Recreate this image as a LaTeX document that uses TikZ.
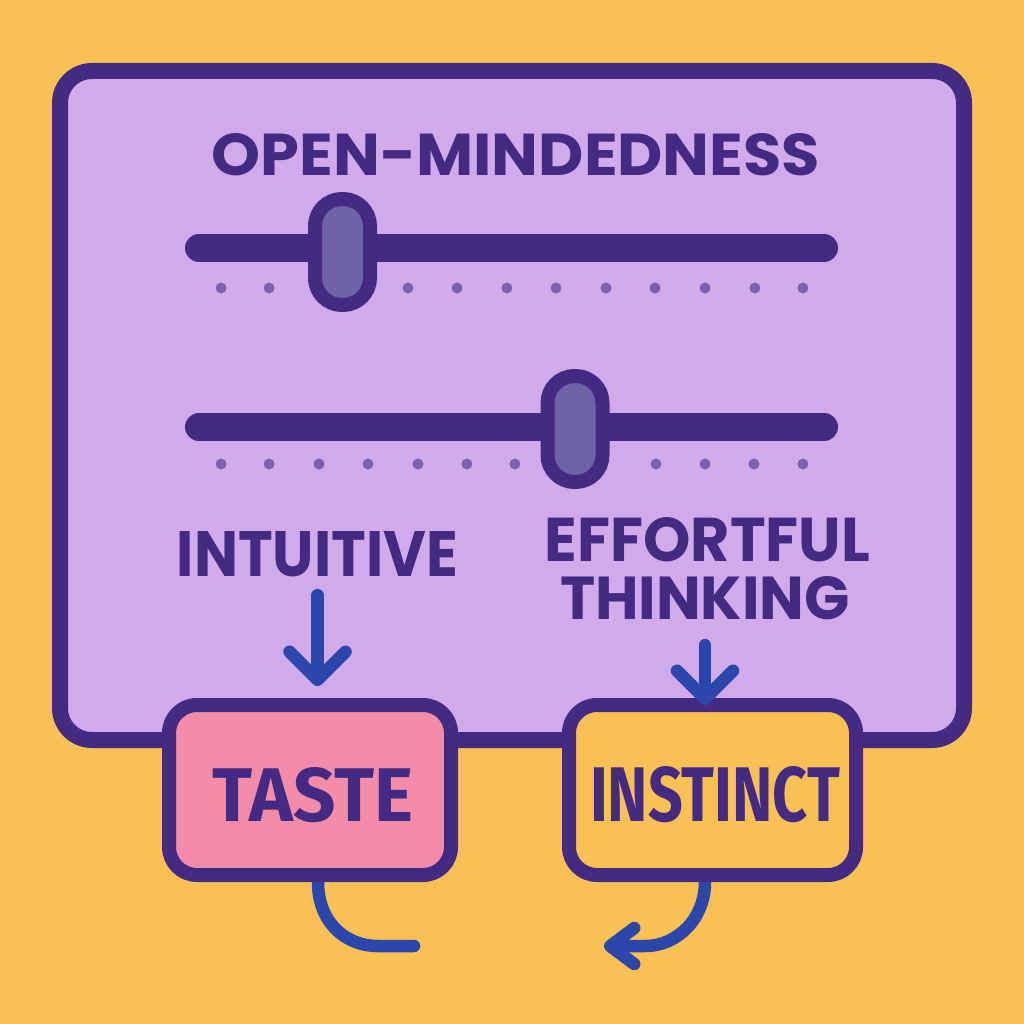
\documentclass[tikz,border=0pt]{standalone}
\usepackage{fontspec}
\setmainfont{Poppins}
\newfontfamily\firaf{Fira Sans}
\usetikzlibrary{arrows.meta,calc}
\definecolor{bgc}{HTML}{F9C153}
\definecolor{panelc}{HTML}{D0AAEA}
\definecolor{darkc}{HTML}{452A84}
\definecolor{knobc}{HTML}{6E63A6}
\definecolor{dotc}{HTML}{7A62B0}
\definecolor{bluec}{HTML}{2B47AB}
\definecolor{pinkc}{HTML}{F28CA9}
\pgfdeclarelayer{back}
\pgfdeclarelayer{mid}
\pgfsetlayers{back,mid,main}
\begin{document}
\begin{tikzpicture}[x=1pt,y=-1pt,
  panel/.style={draw=darkc,fill=panelc,line width=16pt,rounded corners=32pt,
    rectangle,inner sep=0pt,minimum width=904pt,minimum height=669pt},
  box/.style={draw=darkc,line width=14pt,rounded corners=28pt,rectangle,
    inner sep=0pt,minimum height=170pt},
  knob/.style={draw=darkc,fill=knobc,line width=14pt,rounded corners=27pt,
    rectangle,inner sep=0pt,minimum width=55pt,minimum height=106pt},
  track/.style={draw=darkc,line width=28pt,line cap=round},
  lbl/.style={inner sep=0pt,outer sep=0pt,text=darkc},
  arr/.style={draw=bluec,line width=12.5pt,line cap=round,
    -{Straight Barb[length=28pt,width=56pt,round]}},
  curv/.style={draw=bluec,line width=12.5pt,line cap=round,line join=round},
  curvarr/.style={curv,-{Straight Barb[length=24pt,width=36pt,round]}}
]
\begin{pgfonlayer}{back}
\fill[bgc] (0,0) rectangle (1024,1024);
\end{pgfonlayer}
\useasboundingbox (0,0) rectangle (1024,1024);

% panel
\node[panel] (panel) at (512,405.5) {};

% title
\node[lbl] (title) at (516,155) {\resizebox{608pt}{42pt}{\bfseries OPEN-MINDEDNESS}};

% slider 1
\coordinate (t1a) at (199,248);
\coordinate (t1b) at (824,248);
\draw[track] (t1a) -- (t1b);
\foreach \x in {221,269,408,457,507,556,606,655,705,755,803}
  \fill[dotc] (\x,288) circle (5.5);
\node[knob] (knob1) at (342.5,252) {};

% slider 2
\coordinate (t2a) at (199,427);
\coordinate (t2b) at (824,427);
\draw[track] (t2a) -- (t2b);
\foreach \x in {221,269,319,368,418,467,515,656,705,754,803}
  \fill[dotc] (\x,464) circle (5.5);
\node[knob] (knob2) at (575,429) {};

% labels
\node[lbl] (intu) at (317.5,554.5) {\resizebox{281pt}{45pt}{\bfseries INTUITIVE}};
\node[lbl] (effort) at (707.5,540) {\resizebox{325pt}{44pt}{\bfseries EFFORTFUL}};
\node[lbl] (think) at (705,598.5) {\resizebox{290pt}{43pt}{\bfseries THINKING}};

% boxes
\node[box,fill=pinkc,minimum width=282pt] (taste) at (310,790) {};
\node[lbl] (tastet) at (313,795) {\resizebox{200pt}{54pt}{\firaf\bfseries TASTE}};
\node[box,fill=bgc,minimum width=287pt] (inst) at (712.5,790) {};
\node[lbl] (instt) at (715,794.5) {\resizebox{250pt}{55pt}{\firaf\bfseries INSTINCT}};

% arrows
\draw[arr] ($(intu.south)+(0,18)$) -- ($(intu.south |- taste.north)+(0,-12)$);
\draw[arr] ($(think.south)+(0,25)$) -- ($(think.south |- inst.north)+(0,7)$);

% curves
\coordinate (c1a) at (378,946);
\coordinate (c1b) at (414,946);
\coordinate (c2a) at (645,946);
\coordinate (c2b) at (604,946);
\begin{pgfonlayer}{mid}
\draw[curv] ($(taste.south)+(8,0)$) .. controls +(0,40) and +(-33,0) .. (c1a) -- (c1b);
\draw[curvarr] ($(inst.south)+(-7.5,0)$) .. controls +(0,36) and +(33,0) .. (c2a) -- (c2b);
\end{pgfonlayer}
\end{tikzpicture}
\end{document}
